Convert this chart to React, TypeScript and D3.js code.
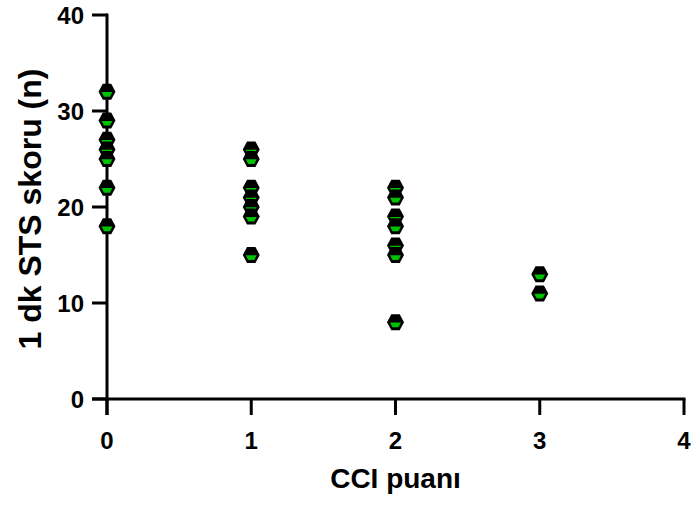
import React from "react";
import * as d3 from "d3";

// CCI score groups and 1-min STS scores
const cciGroups = [0, 1, 2, 3];
const stsByGroup = [
  [32, 29, 27, 26, 25, 22, 18],
  [26, 25, 22, 21, 20, 19, 15],
  [22, 21, 19, 18, 16, 15, 8],
  [13, 11],
];
const xTicks = [0, 1, 2, 3, 4];
const yTicks = [0, 10, 20, 30, 40];

const width = 692;
const height = 509;
const margin = { top: 15, right: 8, bottom: 110, left: 107 };

const font = "'Liberation Sans', Arial, sans-serif";

// hexagon marker with a green lower half
const hexPath = "M-8.5,0 L-4.2,-8 L4.2,-8 L8.5,0 L4.2,8 L-4.2,8 Z";
const greenPath = "M-5.5,0.3 L5.5,0.3 L3,5 L-3,5 Z";

const App = () => {
  const x = d3
    .scaleLinear()
    .domain([0, 4])
    .range([margin.left, width - margin.right]);
  const y = d3
    .scaleLinear()
    .domain([0, 40])
    .range([height - margin.bottom, margin.top]);

  const points = cciGroups.flatMap((g, i) => stsByGroup[i].map(v => ({ g, v })));
  const x0 = x(0);
  const y0 = y(0);

  return (
    <svg width={width} height={height} style={{ position: "absolute", left: 0, top: 0 }}>
      <rect width={width} height={height} fill="#fff" />
      {/* y axis */}
      <line x1={x0} x2={x0} y1={y(40) - 1.5} y2={y0 + 16} stroke="#000" strokeWidth={3} />
      {yTicks.map(t => (
        <g key={"y" + t}>
          <line x1={x0 - 15} x2={x0} y1={y(t)} y2={y(t)} stroke="#000" strokeWidth={3} />
          <text
            x={x0 - 23}
            y={y(t)}
            dy="0.36em"
            textAnchor="end"
            fontFamily={font}
            fontWeight="bold"
            fontSize={24}
          >
            {t}
          </text>
        </g>
      ))}
      {/* x axis */}
      <line x1={x0 - 15} x2={x(4) + 1.5} y1={y0} y2={y0} stroke="#000" strokeWidth={3} />
      {xTicks.map(t => (
        <g key={"x" + t}>
          <line x1={x(t)} x2={x(t)} y1={y0} y2={y0 + 16} stroke="#000" strokeWidth={3} />
          <text
            x={x(t)}
            y={y0 + 50}
            textAnchor="middle"
            fontFamily={font}
            fontWeight="bold"
            fontSize={24}
          >
            {t}
          </text>
        </g>
      ))}
      <text
        x={(x(0) + x(4)) / 2}
        y={488}
        textAnchor="middle"
        fontFamily={font}
        fontWeight="bold"
        fontSize={28}
      >
        CCI puanı
      </text>
      <text
        transform={`translate(41, ${(y(0) + y(40)) / 2 + 2}) rotate(-90)`}
        textAnchor="middle"
        fontFamily={font}
        fontWeight="bold"
        fontSize={32}
      >
        1 dk STS skoru (n)
      </text>
      {/* points */}
      {points.map((p, i) => (
        <g key={i} transform={`translate(${x(p.g)}, ${y(p.v)})`}>
          <path d={hexPath} fill="#000" />
          <path d={greenPath} fill="#00c000" />
        </g>
      ))}
    </svg>
  );
};

export default App;
